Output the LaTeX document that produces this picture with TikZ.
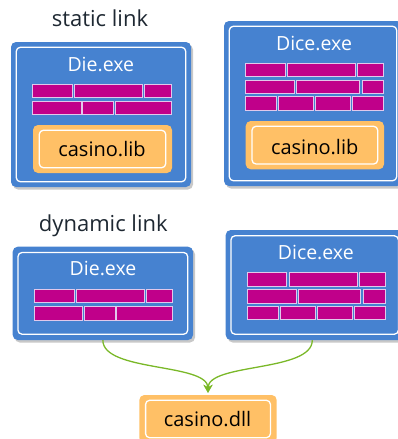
\documentclass[tikz,border=0pt]{standalone}
\usepackage{fontspec}
\setmainfont{Open Sans}
\usetikzlibrary{arrows.meta,shadows}
\definecolor{boxblue}{RGB}{70,130,208}
\definecolor{brickmag}{RGB}{192,0,138}
\definecolor{brickedge}{RGB}{225,200,235}
\definecolor{liborange}{RGB}{255,192,102}
\definecolor{linkgreen}{RGB}{122,184,40}
\definecolor{titlegray}{RGB}{30,40,50}
\definecolor{shadowgray}{RGB}{200,200,200}
\newcommand\brickrow[3]{\foreach \a/\b in {#3} {\draw[brick] (\a,#1) rectangle (\b,#2);}}
\newcommand\innerframe[3]{\draw[innerline] ([shift={(#2,#3)}]#1.north west) rectangle ([shift={(-#2,-#3)}]#1.south east);}
\tikzset{
  exebox/.style={fill=boxblue, rounded corners=5pt, inner sep=0pt,
    drop shadow={shadow xshift=2pt, shadow yshift=-2.5pt, fill=shadowgray, opacity=1}},
  libbox/.style={fill=liborange, rounded corners=5pt, inner sep=0pt},
  innerline/.style={draw=white, line width=1.3pt, rounded corners=4pt},
  brick/.style={fill=brickmag, draw=brickedge, line width=0.7pt},
  title/.style={anchor=base, text=titlegray, font=\fontsize{22}{26}\selectfont},
  exetext/.style={anchor=base, text=white, font=\fontsize{19.5}{23}\selectfont},
  libtext/.style={anchor=base, text=black, font=\fontsize{20}{24}\selectfont},
  link/.style={draw=linkgreen, line width=1.3pt, -{Stealth[length=8pt,width=9pt]}},
}
\begin{document}
\begin{tikzpicture}[x=1pt,y=-1pt]
\useasboundingbox (0,0) rectangle (398,439);
\clip (0,0) rectangle (398,439);
% static link
\node[title] (t1) at (100,26.7) {static link};
\node[exebox, minimum width=180pt, minimum height=145pt] (b1) at (101,114.5) {};
\innerframe{b1}{5.5}{5.5}
\node[exetext] (b1t) at (100.8,71) {Die.exe};
\brickrow{84}{97}{32/72, 74.7/142.7, 144.7/171}
\brickrow{101}{114}{32.7/81, 82.7/113, 115/171}
\node[libbox, minimum width=139pt, minimum height=48pt] (l1) at (102.5,149) {};
\innerframe{l1}{6.5}{5.5}
\node[libtext] (l1t) at (102,156.7) {casino.lib};
% static Dice
\node[exebox, minimum width=178pt, minimum height=165pt] (b2) at (313,103.5) {};
\innerframe{b2}{5.5}{5.5}
\node[exetext] (b2t) at (314,50.7) {Dice.exe};
\brickrow{63.3}{76}{245/285, 287.3/355.7, 357.7/383.7}
\brickrow{80}{93.3}{245/294, 296.7/359, 362/383.7}
\brickrow{96.7}{110}{245/276.7, 278.3/313.7, 315.3/350.7, 352.7/383.7}
\node[libbox, minimum width=138.3pt, minimum height=48.3pt] (l2) at (314.85,145.15) {};
\innerframe{l2}{6.5}{5.5}
\node[libtext] (l2t) at (314.7,154) {casino.lib};
% dynamic link
\node[title] (t2) at (103.3,231.7) {dynamic link};
\node[exebox, minimum width=180.3pt, minimum height=93.3pt] (b3) at (102.85,293.35) {};
\innerframe{b3}{5.5}{6}
\node[exetext] (b3t) at (103,275) {Die.exe};
\brickrow{289}{302.3}{34.3/74.3, 76.3/144.3, 146.3/172.7}
\brickrow{306.7}{320}{34.3/82.7, 84.3/115, 116.7/172.7}
\node[exebox, minimum width=178pt, minimum height=110pt] (b4) at (314.7,285) {};
\innerframe{b4}{5.5}{6}
\node[exetext] (b4t) at (315.8,259.3) {Dice.exe};
\brickrow{272.3}{286}{247.3/286.7, 289/357.3, 359.3/385.7}
\brickrow{289.3}{303.3}{247.3/296, 298.7/360.7, 363.7/385.7}
\brickrow{306}{319.3}{247.3/278.7, 280.3/315.7, 317.3/352.7, 354.3/385.7}
% dll
\node[libbox, minimum width=137.4pt, minimum height=48pt] (dll) at (208,419) {};
\innerframe{dll}{6.5}{5.5}
\node[libtext] (dllt) at (207.5,426.7) {casino.dll};
\coordinate (tip) at ([yshift=2pt]dll.north);
\draw[link] (b3.south) .. controls ++(0,32) and ([yshift=30pt]tip) .. (tip);
\draw[link] ([xshift=-2.4pt]b4.south) .. controls ++(0,32) and ([yshift=30pt]tip) .. (tip);
\end{tikzpicture}
\end{document}
